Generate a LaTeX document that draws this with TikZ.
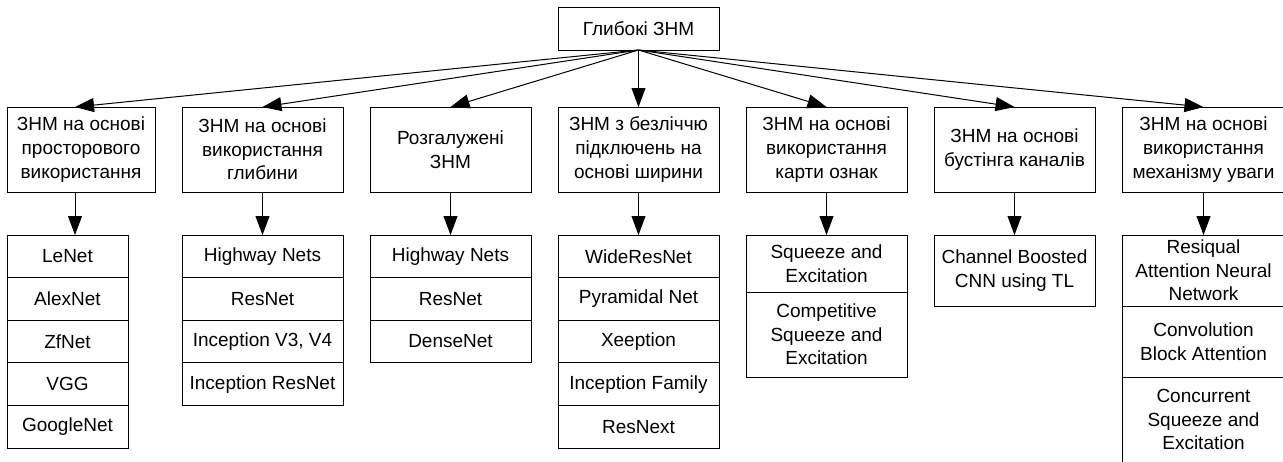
\documentclass[tikz,border=0pt]{standalone}
\usepackage{fontspec}
\setmainfont{Liberation Sans}
\usetikzlibrary{positioning,arrows.meta}

\tikzset{
  box/.style={draw, line width=0.5pt, inner sep=0pt, outer sep=0pt, align=center,
    minimum width=80.5pt, font=\fontsize{9.5pt}{11.8pt}\selectfont},
  cat/.style={box, minimum height=42.5pt},
  row/.style={box, minimum height=21.3pt},
  link/.style={-{Triangle[length=9.5pt,width=7pt]}, line width=0.5pt},
}

\begin{document}
\begin{tikzpicture}[x=0.5pt,y=-0.5pt]
\useasboundingbox (0,0) rectangle (1283,461);
\clip (0,0) rectangle (1283,461);

% CATEGORIES
\node[cat, minimum width=74pt, anchor=north west] (c1) at (7,107) {ЗНМ на основі\\просторового\\використання};
\node[cat, right=13.5pt of c1] (c2) {ЗНМ на основі\\використання\\глибини};
\node[cat, right=13.5pt of c2] (c3) {Розгалужені\\ЗНМ};
\node[cat, right=13.5pt of c3] (c4) {ЗНМ з безліччю\\підключень на\\основі ширини};
\node[cat, right=13.5pt of c4] (c5) {ЗНМ на основі\\використання\\карти ознак};
\node[cat, right=13.5pt of c5] (c6) {ЗНМ на основі\\бустінга каналів};
\node[cat, minimum width=81.5pt, right=13.5pt of c6] (c7) {ЗНМ на основі\\використання\\механізму уваги};

% ROOT
\node[box, minimum height=21.5pt, above=28.5pt of c4] (root) {Глибокі ЗНМ};

% SPATIAL
\node[row, minimum width=60.5pt, below=21.5pt of c1.south west, anchor=north west] (l1a) {LeNet};
\node[row, minimum width=60.5pt, below=0pt of l1a] (l1b) {AlexNet};
\node[row, minimum width=60.5pt, below=0pt of l1b] (l1c) {ZfNet};
\node[row, minimum width=60.5pt, below=0pt of l1c] (l1d) {VGG};
\node[row, minimum width=60.5pt, below=0pt of l1d] (l1e) {GoogleNet};

% DEPTH
\node[row, below=21.5pt of c2] (l2a) {Highway Nets};
\node[row, below=0pt of l2a] (l2b) {ResNet};
\node[row, below=0pt of l2b] (l2c) {Inception V3, V4};
\node[row, below=0pt of l2c] (l2d) {Inception ResNet};

% MULTI-PATH
\node[row, below=21.5pt of c3] (l3a) {Highway Nets};
\node[row, below=0pt of l3a] (l3b) {ResNet};
\node[row, below=0pt of l3b] (l3c) {DenseNet};

% WIDTH
\node[row, below=21.5pt of c4] (l4a) {WideResNet};
\node[row, below=0pt of l4a] (l4b) {Pyramidal Net};
\node[row, below=0pt of l4b] (l4c) {Xeeption};
\node[row, below=0pt of l4c] (l4d) {Inception Family};
\node[row, below=0pt of l4d] (l4e) {ResNext};

% FEATURE MAP
\node[row, minimum height=28.5pt, below=21.5pt of c5] (l5a) {Squeeze and\\Excitation};
\node[row, minimum height=42.5pt, below=0pt of l5a] (l5b) {Competitive\\Squeeze and\\Excitation};

% CHANNEL BOOSTING
\node[row, minimum height=35.5pt, below=21.5pt of c6] (l6a) {Channel Boosted\\CNN using TL};

% ATTENTION
\node[row, minimum width=81.5pt, minimum height=35.5pt, below=21.5pt of c7] (l7a) {Resiqual\\Attention Neural\\Network};
\node[row, minimum width=81.5pt, minimum height=35.5pt, below=0pt of l7a] (l7b) {Convolution\\Block Attention};
\node[row, minimum width=81.5pt, minimum height=42.5pt, below=0pt of l7b] (l7c) {Concurrent\\Squeeze and\\Excitation};

% ARROWS
\coordinate (c1in) at ([xshift=34pt]c1.north west);
\coordinate (c1out) at ([xshift=34pt]c1.south west);
\draw[link] (root.south) -- (c1in);
\draw[link] (root.south) -- (c2.north);
\draw[link] (root.south) -- (c3.north);
\draw[link] (root.south) -- (c4.north);
\draw[link] (root.south) -- (c5.north);
\draw[link] (root.south) -- (c6.north);
\draw[link] (root.south) -- (c7.north);

\draw[link] (c1out) -- (c1out |- l1a.north);
\draw[link] (c2.south) -- (l2a.north);
\draw[link] (c3.south) -- (l3a.north);
\draw[link] (c4.south) -- (l4a.north);
\draw[link] (c5.south) -- (l5a.north);
\draw[link] (c6.south) -- (l6a.north);
\draw[link] (c7.south) -- (l7a.north);

\end{tikzpicture}
\end{document}
